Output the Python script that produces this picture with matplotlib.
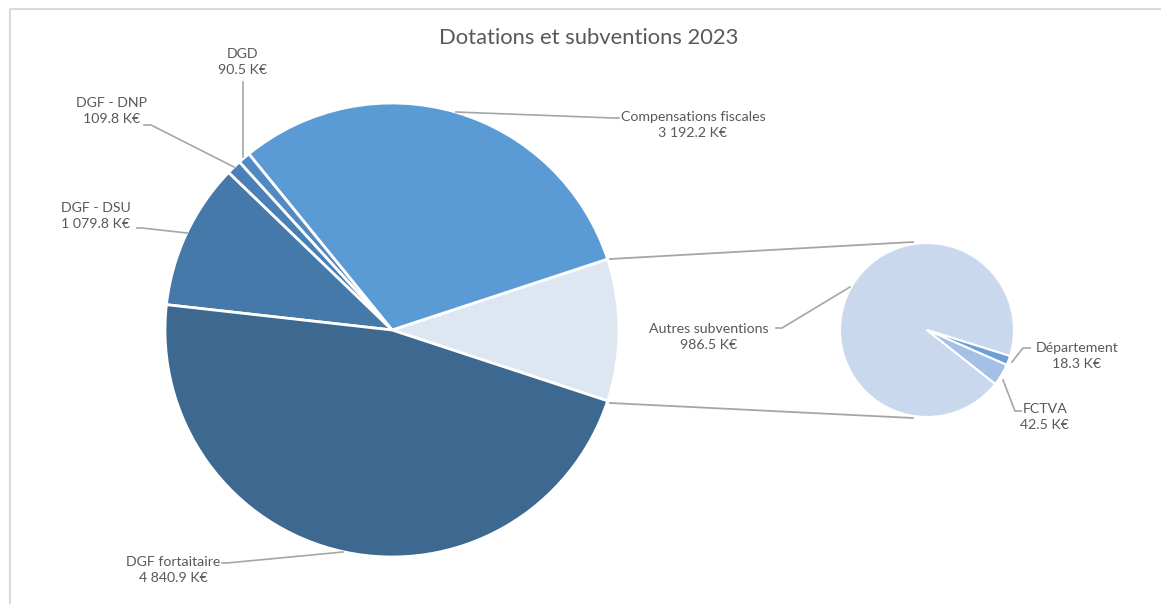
import matplotlib.pyplot as plt

# données (K€)
main_labels = ['Autres', 'Compensations fiscales', 'DGD', 'DGF - DNP', 'DGF - DSU', 'DGF fortaitaire']
main_values = [None, 3192.2, 90.5, 109.8, 1079.8, 4840.9]
sec_labels = ['Autres subventions', 'Département', 'FCTVA']
sec_values = [986.5, 18.3, 42.5]
main_values[0] = sum(sec_values)

main_colors = ['#DEE6F2', '#5B9BD5', '#5189C2', '#4A80B8', '#4579AA', '#3D6991']
sec_colors = ['#C9D8EC', '#6C9FD8', '#A5C0E6']
txt_col = '#595959'
line_col = '#A6A6A6'

W, H = 1161, 604
plt.rcParams['font.family'] = ['Lato', 'DejaVu Sans']

fig = plt.figure(figsize=(W / 100, H / 100), dpi=100)
ax = fig.add_axes([0, 0, 1, 1])


def Y(py):
    return H - py


# camembert principal
c1 = (392, Y(330))
r1 = 227
total = sum(main_values)
start = -main_values[0] / total * 360 / 2
ax.pie(main_values, colors=main_colors, startangle=start, counterclock=True,
       center=c1, radius=r1, wedgeprops=dict(edgecolor='white', linewidth=2))

# camembert secondaire
c2 = (927, Y(330))
r2 = 87
ax.pie(sec_values, colors=sec_colors, startangle=-38.3, counterclock=False,
       center=c2, radius=r2, wedgeprops=dict(edgecolor='white', linewidth=1.5))

# lignes de liaison
ax.plot([610, 913], [Y(259), Y(242)], color=line_col, lw=1.3)
ax.plot([610, 913], [Y(403), Y(418)], color=line_col, lw=1.3)


def fmt(v):
    s = f'{v:,.1f}'.replace(',', ' ')
    return s + ' K€'


def label(name, val, x, y, pts):
    ax.text(x, Y(y), name + '\n' + fmt(val), ha='center', va='center',
            fontsize=10.2, color=txt_col, linespacing=1.35)
    ax.plot([p[0] for p in pts], [Y(p[1]) for p in pts], color=line_col, lw=1.2)


label('DGD', main_values[2], 243, 62, [(243, 157), (243, 82)])
label('DGF - DNP', main_values[3], 112, 111, [(234, 167), (151, 125), (144, 125)])
label('DGF - DSU', main_values[4], 96, 216, [(187, 233), (142, 228), (137, 228)])
label('Compensations fiscales', main_values[1], 693, 125, [(456, 112), (613, 118), (619, 118)])
label('DGF fortaitaire', main_values[5], 173, 570, [(343, 552), (227, 563), (222, 563)])
label('Autres subventions', sec_values[0], 709, 337, [(850, 287), (782, 328), (776, 328)])
label('Département', sec_values[1], 1077, 356, [(1012, 362), (1023, 348), (1030, 348)])
label('FCTVA', sec_values[2], 1045, 417, [(1003, 380), (1015, 411), (1021, 411)])

ax.text(589, Y(38), 'Dotations et subventions 2023', ha='center', va='center',
        fontsize=15.8, color=txt_col)

# cadre
ax.plot([10, 10, W], [0, Y(9), Y(9)], color='#D9D9D9', lw=1.5)

ax.set_xlim(0, W)
ax.set_ylim(0, H)
ax.set_aspect('equal')
ax.axis('off')

fig.savefig('out.png', dpi=100, facecolor='white')
